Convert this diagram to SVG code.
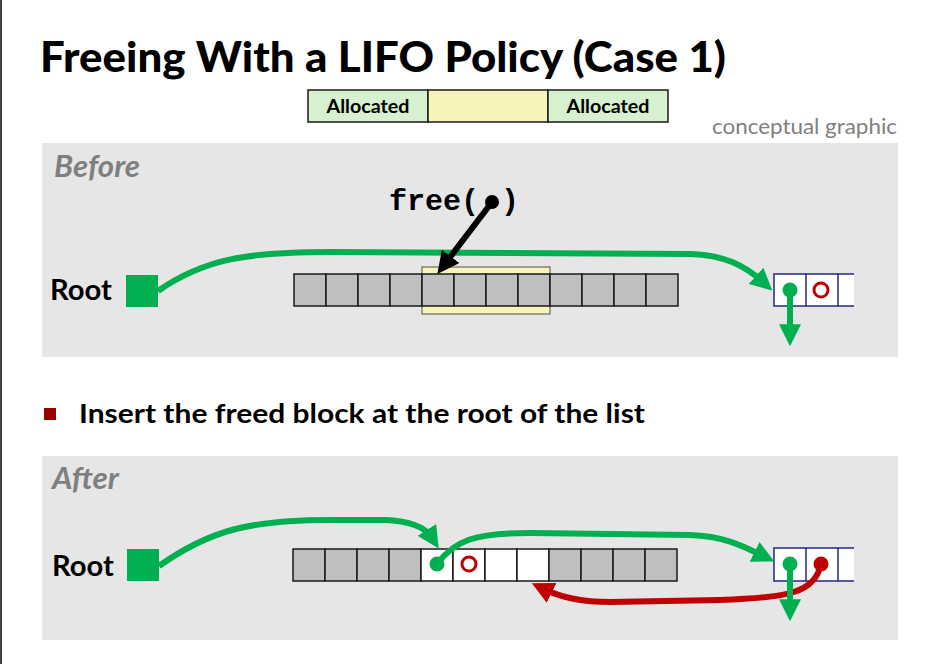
<svg xmlns="http://www.w3.org/2000/svg" width="946" height="664" viewBox="0 0 946 664">
<defs>
<style>
.title{font-family:Lato,"Open Sans",sans-serif;font-weight:900;font-size:42px;fill:#000}
.lbl{font-family:Lato,"Open Sans",sans-serif;font-weight:bold;font-size:26px;fill:#000}
.root{font-family:Lato,"Open Sans",sans-serif;font-weight:bold;font-size:28px;fill:#000}
.sect{font-family:Lato,"Open Sans",sans-serif;font-weight:bold;font-style:italic;font-size:30px;fill:#7f7f7f}
.leg{font-family:Lato,"Open Sans",sans-serif;font-weight:bold;font-size:19px;fill:#000}
.note{font-family:Lato,"Open Sans",sans-serif;font-size:21px;fill:#808080}
.code{font-family:"Liberation Mono",monospace;font-weight:bold;font-size:30px;fill:#000}
.cell{fill:#bfbfbf;stroke:#1a1a1a;stroke-width:1.5}
.wcell{fill:#fff;stroke:#1a1a1a;stroke-width:1.5}
.g{fill:none;stroke:#00b050;stroke-width:6}
.r{fill:none;stroke:#c00000;stroke-width:6}
.k{fill:none;stroke:#000;stroke-width:6}
</style>
<marker id="ag" markerUnits="userSpaceOnUse" markerWidth="22" markerHeight="22" viewBox="0 0 20 20" refX="8" refY="10" orient="auto"><path d="M0,0 L20,10 L0,20 z" fill="#00b050"/></marker>
<marker id="ar" markerUnits="userSpaceOnUse" markerWidth="22" markerHeight="22" viewBox="0 0 20 20" refX="8" refY="10" orient="auto"><path d="M0,0 L20,10 L0,20 z" fill="#c00000"/></marker>
<marker id="ak" markerUnits="userSpaceOnUse" markerWidth="22" markerHeight="22" viewBox="0 0 20 20" refX="8" refY="10" orient="auto"><path d="M0,0 L20,10 L0,20 z" fill="#000"/></marker>
</defs>
<rect width="946" height="664" fill="#fff"/>
<rect x="0" y="0" width="2" height="664" fill="#404040"/>
<text class="title" x="40" y="72" textLength="686" lengthAdjust="spacingAndGlyphs">Freeing With a LIFO Policy (Case 1)</text>
<g id="legend">
<rect x="308" y="90" width="120" height="32" fill="#d6f0d0" stroke="#1a1a1a" stroke-width="1.5"/>
<rect x="428" y="90" width="120" height="32" fill="#f6f4bb" stroke="#1a1a1a" stroke-width="1.5"/>
<rect x="548" y="90" width="120" height="32" fill="#d6f0d0" stroke="#1a1a1a" stroke-width="1.5"/>
<text class="leg" x="368" y="113" text-anchor="middle" textLength="83" lengthAdjust="spacingAndGlyphs">Allocated</text>
<text class="leg" x="608" y="113" text-anchor="middle" textLength="83" lengthAdjust="spacingAndGlyphs">Allocated</text>
</g>
<text class="note" x="897" y="134" text-anchor="end" textLength="185" lengthAdjust="spacingAndGlyphs">conceptual graphic</text>
<rect id="before-panel" x="42" y="143" width="856" height="214" fill="#e6e6e6"/>
<rect id="after-panel" x="42" y="456" width="856" height="184" fill="#e6e6e6"/>
<text class="sect" x="54" y="177" textLength="86" lengthAdjust="spacingAndGlyphs">Before</text>
<text class="sect" x="52" y="489" textLength="67" lengthAdjust="spacingAndGlyphs">After</text>
<rect x="44" y="408" width="12" height="12" fill="#990000"/>
<text class="lbl" x="79" y="423" textLength="566" lengthAdjust="spacingAndGlyphs">Insert the freed block at the root of the list</text>

<g id="before-root">
<text class="root" x="50" y="300" textLength="62" lengthAdjust="spacingAndGlyphs">Root</text>
<rect x="126" y="275" width="32" height="32" fill="#00b050"/>
</g>
<g id="before-highlight">
<rect x="422" y="267" width="128" height="47" fill="#f6f4bb" stroke="#6b6b50" stroke-width="1.2"/>
</g>
<g id="before-heap">
<rect class="cell" x="294" y="274" width="32" height="32"/>
<rect class="cell" x="326" y="274" width="32" height="32"/>
<rect class="cell" x="358" y="274" width="32" height="32"/>
<rect class="cell" x="390" y="274" width="32" height="32"/>
<rect class="cell" x="422" y="274" width="32" height="32"/>
<rect class="cell" x="454" y="274" width="32" height="32"/>
<rect class="cell" x="486" y="274" width="32" height="32"/>
<rect class="cell" x="518" y="274" width="32" height="32"/>
<rect class="cell" x="550" y="274" width="32" height="32"/>
<rect class="cell" x="582" y="274" width="32" height="32"/>
<rect class="cell" x="614" y="274" width="32" height="32"/>
<rect class="cell" x="646" y="274" width="32" height="32"/>
</g>
<g id="before-node">
<rect x="774" y="274" width="80" height="32" fill="#fff"/>
<path d="M854,274 H774 V306 H854 M806,274 V306 M838,274 V306" fill="none" stroke="#1f2a80" stroke-width="1.5"/>
<circle cx="821" cy="290" r="7" fill="none" stroke="#c00000" stroke-width="3"/>
</g>
<g id="before-call">
<text class="code" x="389" y="210">free(</text>
<text class="code" x="501" y="210">)</text>
</g>

<g id="after-root">
<text class="root" x="52" y="576" textLength="62" lengthAdjust="spacingAndGlyphs">Root</text>
<rect x="127" y="549" width="32" height="32" fill="#00b050"/>
</g>
<g id="after-heap">
<rect class="cell" x="293" y="549" width="32" height="32"/>
<rect class="cell" x="325" y="549" width="32" height="32"/>
<rect class="cell" x="357" y="549" width="32" height="32"/>
<rect class="cell" x="389" y="549" width="32" height="32"/>
<rect class="wcell" x="421" y="549" width="32" height="32"/>
<rect class="wcell" x="453" y="549" width="32" height="32"/>
<rect class="wcell" x="485" y="549" width="32" height="32"/>
<rect class="wcell" x="517" y="549" width="32" height="32"/>
<rect class="cell" x="549" y="549" width="32" height="32"/>
<rect class="cell" x="581" y="549" width="32" height="32"/>
<rect class="cell" x="613" y="549" width="32" height="32"/>
<rect class="cell" x="645" y="549" width="32" height="32"/>
<circle cx="469" cy="564" r="7" fill="none" stroke="#c00000" stroke-width="3"/>
</g>
<g id="after-node">
<rect x="774" y="548" width="80" height="33" fill="#fff"/>
<path d="M854,548 H774 V581 H854 M806,548 V581 M838,548 V581" fill="none" stroke="#1f2a80" stroke-width="1.5"/>
</g>

<g id="connectors">
<path class="g" d="M158,291 C205,258 250,252 330,252 L690,254 C725,255 745,266 762.5,281.7" marker-end="url(#ag)"/>
<circle cx="790" cy="290" r="7.5" fill="#00b050"/>
<path class="g" d="M790,290 L790,333" marker-end="url(#ag)"/>
<circle cx="492" cy="202" r="7" fill="#000"/>
<path class="k" d="M492,202 L445.3,263.4" marker-end="url(#ak)"/>

<path class="g" d="M159,566 C210,530 250,520 330,520 L385,520 C410,521 425,527 431.6,537.3" marker-end="url(#ag)"/>
<path class="g" d="M437,564 C455,540 475,533 530,533 L690,535 C725,536 745,547 762.5,555.7" marker-end="url(#ag)"/>
<circle cx="437" cy="564" r="7.5" fill="#00b050"/>
<path class="r" d="M821,564 C815,592 790,598 720,600 L610,602 C580,602 560,597 543.7,589" marker-end="url(#ar)"/>
<circle cx="821" cy="564" r="7.5" fill="#c00000"/>
<path class="g" d="M790,564 L790,608" marker-end="url(#ag)"/>
<circle cx="790" cy="564" r="7.5" fill="#00b050"/>
</g>
</svg>
